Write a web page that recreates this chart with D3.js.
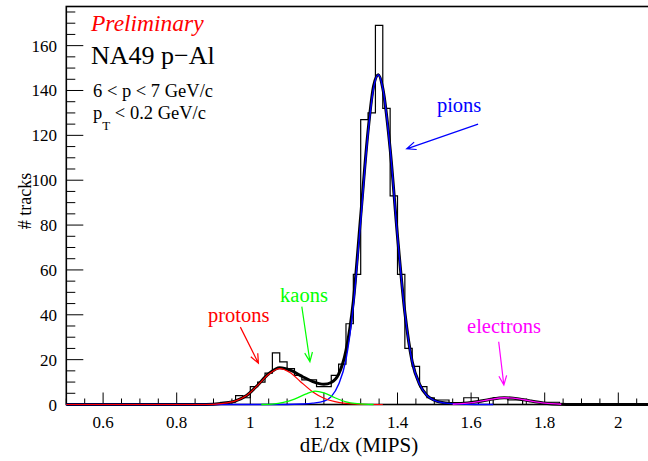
<!DOCTYPE html>
<html>
<head>
<meta charset="utf-8">
<script src="https://cdn.jsdelivr.net/npm/d3@7/dist/d3.min.js"></script>
<style>
body{margin:0;background:#fff;}
svg text{font-family:"Liberation Serif","Times New Roman",serif;}
</style>
</head>
<body>
<svg id="chart" width="648" height="461"></svg>
<script>
// histogram, 0.02 MIPS bins: lower edge of each bin and its count
var binLow = [0.90,0.92,0.94,0.96,0.98,1.00,1.02,1.04,1.06,1.08,1.10,1.12,1.14,1.16,1.18,1.20,
	1.22,1.24,1.26,1.28,1.30,1.32,1.34,1.36,1.38,1.40,1.42,1.44,1.46,1.48,1.50,1.52,
	1.54,1.56,1.58,1.60,1.62,1.64,1.66,1.68,1.70,1.72,1.74,1.76,1.78,1.80,1.82,1.84];
var binWidth = 0.02;
var counts = [0,1,1,4,3,8,10,14,23,19,16,13,11,11,8,8,
	13,18,36,58,127,130,169,132,93,58,25,17,8,3,2,2,
	0,0,3,3,0,0,3,3,2,2,0,0,0,1,1,0];

// fitted curves, points
var totalX = [0.50,0.88,0.92,0.96,0.99,1.02,1.05,1.08,1.11,1.14,1.17,1.20,1.22,1.24,1.26,1.28,1.30,1.32,1.335,1.348,1.36,1.38,1.40,1.42,1.44,1.46,1.48,1.50,1.53,1.56,1.59,1.62,1.65,1.69,1.73,1.76,1.80,1.84,1.88,2.10];
var totalY = [0,0,0.4,1.6,4,8.6,13.7,16.4,15.2,12.6,10.2,9.0,9.8,13.5,24,46,84,122,142,147,141,114,75,41,19,9,4,1.9,0.7,0.4,0.7,1.3,2.2,3.0,2.5,1.6,0.6,0.1,0,0];

var pionX = [0.50,1.10,1.14,1.17,1.20,1.22,1.24,1.26,1.28,1.30,1.32,1.335,1.348,1.36,1.38,1.40,1.42,1.44,1.46,1.48,1.50,1.53,1.57,1.61,1.66];
var pionY = [0,0,0.2,0.6,1.5,3.5,9,20,44,82,121,141,147,141,114,75,41,19,9,4,1.8,0.6,0.15,0.03,0];

var protonX = [0.50,0.88,0.92,0.96,0.99,1.02,1.05,1.08,1.11,1.135,1.17,1.20,1.23,1.26,1.30,1.36];
var protonY = [0,0,0.4,1.6,4,8.5,13.5,16,14,10.4,5.6,2.8,1.3,0.5,0.1,0];

var kaonX = [1.03,1.06,1.09,1.12,1.15,1.176,1.20,1.23,1.26,1.29,1.335];
var kaonY = [0,0.2,0.9,2.4,4.6,6.0,5.2,3.0,1.2,0.4,0];

var elecX = [1.55,1.59,1.62,1.65,1.69,1.73,1.76,1.80,1.845];
var elecY = [0.1,0.6,1.3,2.2,3.0,2.5,1.6,0.6,0.1];

var xTicks = [0.6,0.8,1,1.2,1.4,1.6,1.8,2];
var yTicks = [0,20,40,60,80,100,120,140,160];

var svg = d3.select('#chart');
var frame = {left:66.3, right:655.1, top:6.5, bottom:404.5};

var xscale = d3.scaleLinear().domain([0.5,2.1]).range([frame.left,frame.right]);
var yscale = d3.scaleLinear().domain([0,177.45]).range([frame.bottom,frame.top]);

// frame
svg.append('rect')
	.attr('x',frame.left).attr('y',frame.top)
	.attr('width',frame.right-frame.left).attr('height',frame.bottom-frame.top)
	.attr('fill','none').attr('stroke','#000').attr('stroke-width',1.6);

// axis ticks (ROOT style, pointing inside)
var g = svg.append('g');
var xMinor = d3.range(0.5,2.1001,0.05);
xMinor.forEach(function(v){
	var major = xTicks.some(function(t){return Math.abs(t-v)<1e-6;});
	g.append('line')
		.attr('x1',xscale(v)).attr('x2',xscale(v))
		.attr('y1',frame.bottom).attr('y2',frame.bottom-(major?12:6))
		.attr('stroke','#000').attr('stroke-width',1);
});
var yMinor = d3.range(0,177,5);
yMinor.forEach(function(v){
	var major = v%20===0;
	g.append('line')
		.attr('x1',frame.left).attr('x2',frame.left+(major?17:9))
		.attr('y1',yscale(v)).attr('y2',yscale(v))
		.attr('stroke','#000').attr('stroke-width',1);
});

g.selectAll('.xl').data(xTicks).enter().append('text')
	.attr('x',d=>xscale(d)).attr('y',428)
	.attr('text-anchor','middle').style('font-size','17px')
	.text(d=>d3.format('~g')(d));
g.selectAll('.yl').data(yTicks).enter().append('text')
	.attr('x',57).attr('y',d=>yscale(d)+6)
	.attr('text-anchor','end').style('font-size','17px')
	.text(d=>d);

svg.append('text').attr('x',359).attr('y',452)
	.attr('text-anchor','middle').style('font-size','21px')
	.text('dE/dx (MIPS)');
svg.append('text')
	.attr('transform','translate(31,201) rotate(-90)')
	.attr('text-anchor','middle').style('font-size','18px')
	.text('# tracks');

// histogram outline
var hpath = d3.path();
hpath.moveTo(xscale(binLow[0]),yscale(0));
binLow.forEach(function(b,i){
	hpath.lineTo(xscale(b),yscale(counts[i]));
	hpath.lineTo(xscale(b+binWidth),yscale(counts[i]));
});
hpath.lineTo(xscale(binLow[binLow.length-1]+binWidth),yscale(0));
svg.append('path').attr('d',hpath.toString())
	.attr('fill','none').attr('stroke','#000').attr('stroke-width',1.2);

// fit curves
var line = d3.line().x(d=>xscale(d[0])).y(d=>yscale(d[1])).curve(d3.curveMonotoneX);
function curve(xs,ys,color,w){
	svg.append('path').datum(xs.map((x,i)=>[x,ys[i]]))
		.attr('d',line).attr('fill','none')
		.attr('stroke',color).attr('stroke-width',w);
}
curve(totalX,totalY,'#000',3);
curve(pionX,pionY,'#0000ff',1.4);
curve(protonX,protonY,'#ff0000',1.2);
curve(kaonX,kaonY,'#00ff00',1.3);
curve(elecX,elecY,'#ff00ff',1.4);

// labels with arrows
function arrow(x1,y1,x2,y2,color){
	var px1=xscale(x1),py1=yscale(y1),px2=xscale(x2),py2=yscale(y2);
	var a = Math.atan2(py2-py1,px2-px1), h = 10, s = 0.4;
	svg.append('path')
		.attr('d','M'+px1+','+py1+'L'+px2+','+py2+
			'M'+(px2-h*Math.cos(a-s))+','+(py2-h*Math.sin(a-s))+'L'+px2+','+py2+
			'L'+(px2-h*Math.cos(a+s))+','+(py2-h*Math.sin(a+s)))
		.attr('fill','none').attr('stroke',color).attr('stroke-width',1.2);
}
function label(x,y,txt,color){
	svg.append('text').attr('x',xscale(x)).attr('y',yscale(y))
		.style('font-size','20.5px').attr('fill',color).text(txt);
}
label(1.507,130.5,'pions','#0000ff');
arrow(1.619,125,1.425,114,'#0000ff');
label(0.885,36.8,'protons','#ff0000');
arrow(0.973,34.5,1.022,18.4,'#ff0000');
label(1.081,45.9,'kaons','#00ff00');
arrow(1.140,43.6,1.162,19.1,'#00ff00');
label(1.589,31.9,'electrons','#ff00ff');
arrow(1.675,28,1.689,8.7,'#ff00ff');

// header texts
svg.append('text').attr('x',91).attr('y',30.5)
	.style('font-size','23.5px').style('font-style','italic').attr('fill','#ff0000')
	.text('Preliminary');
svg.append('text').attr('x',91).attr('y',63.5)
	.style('font-size','26px').text('NA49 p\u2212Al');
svg.append('text').attr('x',93).attr('y',96.5)
	.style('font-size','18.5px').text('6 < p < 7 GeV/c');
var pt = svg.append('text').attr('x',93).attr('y',118.5).style('font-size','18.5px');
pt.append('tspan').text('p');
pt.append('tspan').attr('dy',11).style('font-size','13px').text('T');
pt.append('tspan').attr('dy',-11).text(' < 0.2 GeV/c');
</script>
</body>
</html>
